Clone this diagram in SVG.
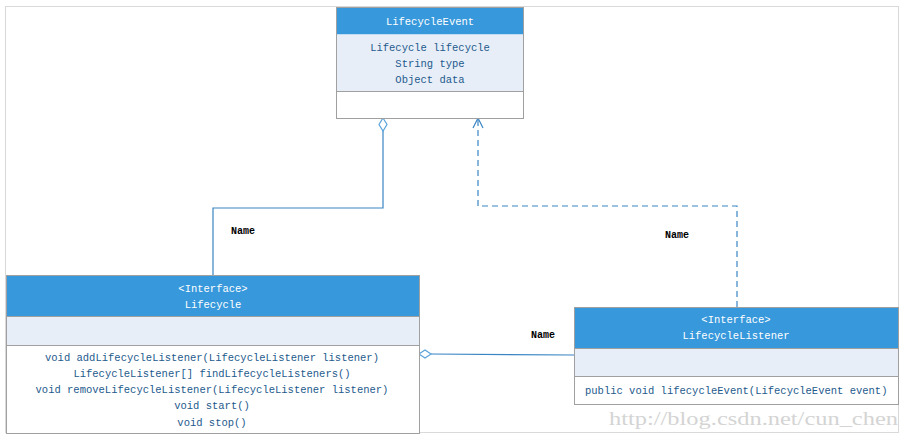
<svg xmlns="http://www.w3.org/2000/svg" width="910" height="439" viewBox="0 0 910 439">
<style>
.hdr{fill:#3798db;}
.att{fill:#e8eef8;}
.box{fill:none;stroke:#a0a0a0;stroke-width:1;}
.sep{stroke:#a0a0a0;stroke-width:1;}
.t{font-family:"Liberation Mono",monospace;font-size:10.5px;fill:#1d5a8c;text-anchor:middle;}
.th{font-family:"Liberation Mono",monospace;font-size:10.5px;fill:#ffffff;text-anchor:middle;}
.lbl{font-family:"Liberation Mono",monospace;font-size:10px;font-weight:bold;fill:#000000;}
.conn{fill:none;stroke:#3a85c4;stroke-width:1.2;}
.dash{fill:none;stroke:#3a85c4;stroke-width:1.2;stroke-dasharray:6,4;}
.dia{fill:#ffffff;stroke:#5aa3dc;stroke-width:1.2;}
</style>
<rect x="5.5" y="6.5" width="893" height="426" fill="#ffffff" stroke="#d9d9d9" stroke-width="1"/>
<text x="609" y="425" font-family="'Liberation Serif',serif" font-size="19.5px" fill="#d4d4d4" textLength="289" lengthAdjust="spacingAndGlyphs">http://blog.csdn.net/cun_chen</text>

<g id="connectors">
<polyline class="conn" points="383,131 383,208 213,208 213,275"/>
<path class="dia" d="M383,118 L387,124.5 L383,131 L379,124.5 Z"/>
<polyline class="dash" points="737,307 737,206 478,206 478,120"/>
<polyline class="conn" points="473,128 478,118 483,128"/>
<line class="conn" x1="431" y1="354" x2="574" y2="355"/>
<path class="dia" d="M419,354 L425,350 L431,354 L425,358 Z"/>
<text class="lbl" x="231" y="234">Name</text>
<text class="lbl" x="665" y="238">Name</text>
<text class="lbl" x="531" y="338">Name</text>
</g>

<g id="LifecycleEvent">
<rect class="hdr" x="336.5" y="7.5" width="187" height="27"/>
<rect class="att" x="336.5" y="34.5" width="187" height="57"/>
<rect fill="#ffffff" x="336.5" y="91.5" width="187" height="27"/>
<line class="sep" x1="336.5" y1="91.5" x2="523.5" y2="91.5"/>
<rect class="box" x="336.5" y="7.5" width="187" height="111"/>
<text class="th" x="430" y="25">LifecycleEvent</text>
<text class="t" x="430" y="51">Lifecycle lifecycle</text>
<text class="t" x="430" y="67">String type</text>
<text class="t" x="430" y="83">Object data</text>
</g>

<g id="Lifecycle">
<rect class="hdr" x="6.5" y="275.5" width="413" height="41"/>
<rect class="att" x="6.5" y="316.5" width="413" height="29"/>
<rect fill="#ffffff" x="6.5" y="345.5" width="413" height="88"/>
<line class="sep" x1="6.5" y1="345.5" x2="419.5" y2="345.5"/>
<line class="sep" x1="6.5" y1="316.5" x2="419.5" y2="316.5"/>
<rect class="box" x="6.5" y="275.5" width="413" height="158"/>
<text class="th" x="213" y="292">&lt;Interface&gt;</text>
<text class="th" x="213" y="308">Lifecycle</text>
<text class="t" x="212" y="361">void addLifecycleListener(LifecycleListener listener)</text>
<text class="t" x="212" y="377">LifecycleListener[] findLifecycleListeners()</text>
<text class="t" x="212" y="393">void removeLifecycleListener(LifecycleListener listener)</text>
<text class="t" x="212" y="409">void start()</text>
<text class="t" x="212" y="426">void stop()</text>
</g>

<g id="LifecycleListener">
<rect class="hdr" x="574.5" y="307.5" width="324" height="41"/>
<rect class="att" x="574.5" y="348.5" width="324" height="28"/>
<rect fill="#ffffff" x="574.5" y="376.5" width="324" height="28"/>
<line class="sep" x1="574.5" y1="376.5" x2="898.5" y2="376.5"/>
<line class="sep" x1="574.5" y1="348.5" x2="898.5" y2="348.5"/>
<rect class="box" x="574.5" y="307.5" width="324" height="97"/>
<text class="th" x="736" y="323">&lt;Interface&gt;</text>
<text class="th" x="736" y="339">LifecycleListener</text>
<text class="t" x="585" y="394" style="text-anchor:start">public void lifecycleEvent(LifecycleEvent event)</text>
</g>
</svg>
